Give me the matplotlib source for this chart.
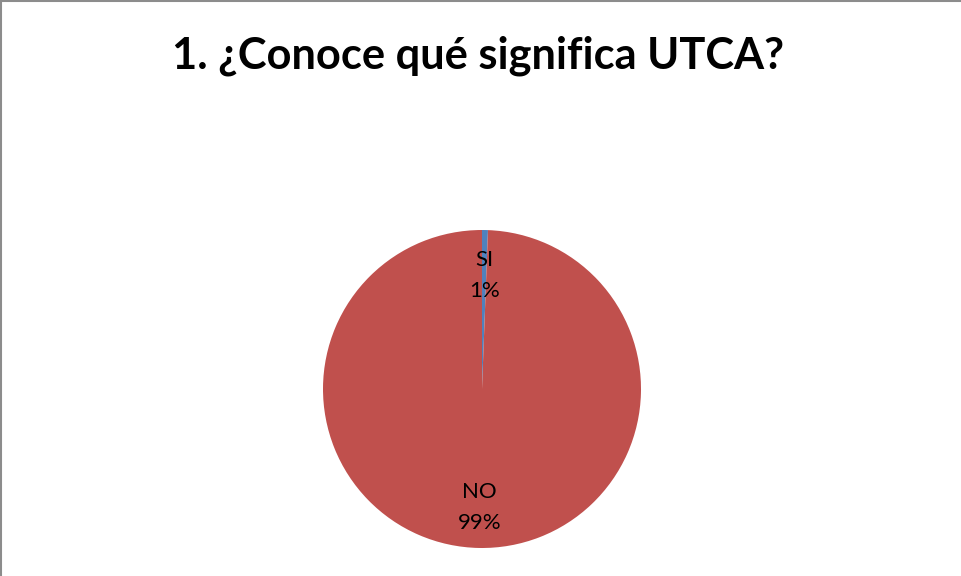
import matplotlib
matplotlib.use("Agg")
import matplotlib.pyplot as plt
from matplotlib.lines import Line2D
from matplotlib.transforms import offset_copy

title = "1. ¿Conoce qué significa UTCA?"
categories = ["SI", "NO"]
values = [0.6, 99.4]
colors = ["#4F81BD", "#C0504D"]

W, H = 961, 576
fig = plt.figure(figsize=(W / 100, H / 100), dpi=100)
fig.patch.set_facecolor("white")

cx, cy, r = 482, 389, 159
ax = fig.add_axes([(cx - r) / W, (H - cy - r) / H, 2 * r / W, 2 * r / H])

labels_iter = iter(categories)
def fmt(p):
    return f"{next(labels_iter)}\n{p:.0f}%"

wedges, texts, autotexts = ax.pie(
    values, colors=colors, startangle=90, counterclock=False,
    autopct=fmt, pctdistance=0.73,
    wedgeprops=dict(linewidth=0),
    textprops=dict(fontsize=16, family=["Lato", "DejaVu Sans"], color="black",
                   linespacing=1.72),
)
for t in autotexts:
    t.set_transform(offset_copy(ax.transData, fig=fig, x=0, y=-2.5, units="dots"))
ax.set_xlim(-1, 1)
ax.set_ylim(-1, 1)
ax.axis("off")

fig.text(478.5 / W, 1 - 68 / H, title, ha="center", va="baseline",
         fontsize=31.2, fontweight="bold", family=["Lato", "DejaVu Sans"])

# left and top border
fig.add_artist(Line2D([1 / W, 1 / W], [0, 1], color="#8C8C8C", lw=1.5, transform=fig.transFigure))
fig.add_artist(Line2D([0, 1], [1 - 1 / H, 1 - 1 / H], color="#8C8C8C", lw=1.5, transform=fig.transFigure))

fig.savefig("out.png", dpi=100)
